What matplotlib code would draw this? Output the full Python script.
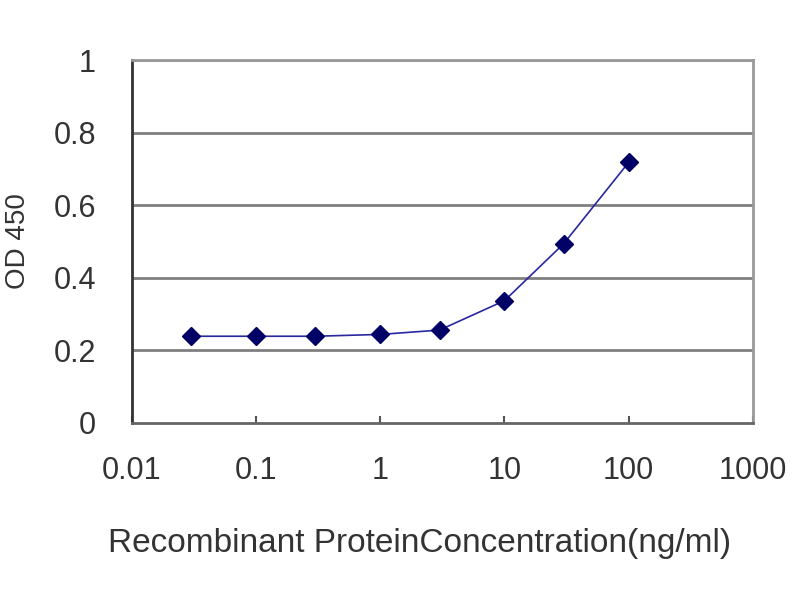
import numpy as np
import matplotlib
matplotlib.use("Agg")
import matplotlib.pyplot as plt
from matplotlib.ticker import FixedLocator, FixedFormatter, NullLocator

# Data
concentration = [0.03, 0.1, 0.3, 1, 3, 10, 30, 100]
od450 = [0.239, 0.239, 0.239, 0.244, 0.256, 0.337, 0.494, 0.718]

x_ticks = [0.01, 0.1, 1, 10, 100, 1000]
x_tick_labels = ["0.01", "0.1", "1", "10", "100", "1000"]
y_ticks = [0, 0.2, 0.4, 0.6, 0.8, 1]
y_tick_labels = ["0", "0.2", "0.4", "0.6", "0.8", "1"]

plt.rcParams['font.family'] = ['Liberation Sans', 'DejaVu Sans']

fig = plt.figure(figsize=(8, 6), dpi=100)
ax = fig.add_axes([0.165, 0.295, 0.776, 0.605])

# Gridlines (gray, like Excel)
for v in y_ticks[1:]:
    ax.axhline(v, color='#808080', lw=2, zorder=1)

ax.plot(concentration, od450, color='#2828a0', lw=1.2, zorder=2)
ax.plot(concentration, od450, linestyle='none', marker='D', markersize=9,
        color='#000066', zorder=3)

ax.set_xscale('log')
ax.set_xlim(0.01, 1000)
ax.set_ylim(0, 1)

ax.xaxis.set_major_locator(FixedLocator(x_ticks))
ax.xaxis.set_major_formatter(FixedFormatter(x_tick_labels))
ax.xaxis.set_minor_locator(NullLocator())
ax.yaxis.set_major_locator(FixedLocator(y_ticks))
ax.yaxis.set_major_formatter(FixedFormatter(y_tick_labels))

ax.tick_params(axis='x', direction='in', length=5, width=1.5, color='#555555',
               labelsize=22, pad=24, labelcolor='#333333')
ax.tick_params(axis='y', length=0, labelsize=22, pad=26, labelcolor='#333333')

ax.spines['left'].set_color('#333333')
ax.spines['left'].set_linewidth(2)
ax.spines['bottom'].set_color('#666666')
ax.spines['bottom'].set_linewidth(2)
ax.spines['top'].set_color('#999999')
ax.spines['top'].set_linewidth(2)
ax.spines['right'].set_color('#999999')
ax.spines['right'].set_linewidth(2)

ax.set_xlabel("Recombinant ProteinConcentration(ng/ml)", fontsize=24,
              color='#333333')
ax.xaxis.set_label_coords(0.464, -0.29)
ax.set_ylabel("OD 450", fontsize=20, color='#333333', labelpad=16)

fig.savefig("out.png", dpi=100, facecolor='white')
